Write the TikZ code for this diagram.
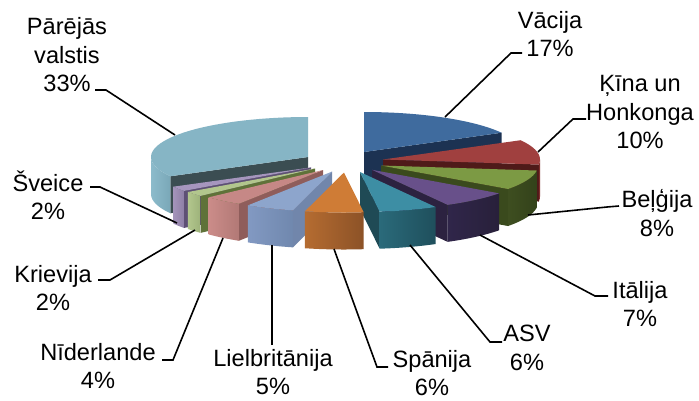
\documentclass[tikz,border=0pt]{standalone}
\usepackage{fontspec}
\setmainfont{Liberation Sans}
\def\prx{157}\def\pry{40}\def\pth{37}
% #1,#2 angles, #3,#4 tip, #5 style
\newcommand\pietop[5]{%
 \path[#5] (#3,#4) -- plot[domain=#1:#2,samples=40] ({#3+\prx*cos(\x)},{#4-\pry*sin(\x)}) -- cycle;}
\newcommand\piewall[5]{%
 \path[#5] plot[domain=#1:#2,samples=30] ({#3+\prx*cos(\x)},{#4-\pry*sin(\x)}) -- plot[domain=#2:#1,samples=30] ({#3+\prx*cos(\x)},{#4-\pry*sin(\x)+\pth}) -- cycle;}
% #1 angle, #2,#3 tip, #4 style
\newcommand\pieside[4]{%
 \path[#4] (#2,#3) -- ({#2+\prx*cos(#1)},{#3-\pry*sin(#1)}) -- ++(0,\pth) -- (#2,{#3+\pth}) -- cycle;}
\definecolor{vacT}{HTML}{3F6B9E}\definecolor{vacS}{HTML}{1C3252}
\definecolor{kinT}{HTML}{A0403F}\definecolor{kinS}{HTML}{4F1A19}\definecolor{kinW}{HTML}{7E2E2C}
\definecolor{belT}{HTML}{7C9A44}\definecolor{belS}{HTML}{3A4A1D}\definecolor{belWa}{HTML}{3E4E20}\definecolor{belWb}{HTML}{33421A}
\definecolor{itaT}{HTML}{68508A}\definecolor{itaS}{HTML}{2C2240}\definecolor{itaWa}{HTML}{30264A}\definecolor{itaWb}{HTML}{28203A}
\definecolor{asvT}{HTML}{3D8EA4}\definecolor{asvS}{HTML}{1F4A55}\definecolor{asvWa}{HTML}{2A6A7A}\definecolor{asvWb}{HTML}{1F4F5C}
\definecolor{spaT}{HTML}{CF7C36}\definecolor{spaWa}{HTML}{B56C31}\definecolor{spaWb}{HTML}{8C5227}
\definecolor{lieT}{HTML}{8DA5CC}\definecolor{lieS}{HTML}{7186AB}\definecolor{lieWa}{HTML}{8299C2}\definecolor{lieWb}{HTML}{7088AE}
\definecolor{nidT}{HTML}{C68886}\definecolor{nidS}{HTML}{8F5D5B}\definecolor{nidWa}{HTML}{CB8C89}\definecolor{nidWb}{HTML}{B27976}
\definecolor{kriT}{HTML}{B2C68D}\definecolor{kriS}{HTML}{5F7239}\definecolor{kriWa}{HTML}{B2C68D}\definecolor{kriWb}{HTML}{9DB27A}
\definecolor{sveT}{HTML}{A696BE}\definecolor{sveS}{HTML}{5E5075}\definecolor{sveWa}{HTML}{A393BA}\definecolor{sveWb}{HTML}{8E7FA6}
\definecolor{parT}{HTML}{86B5C5}\definecolor{parS}{HTML}{3B4D52}\definecolor{parWa}{HTML}{8CBBCB}\definecolor{parWb}{HTML}{7AA8B8}
\tikzset{lbl/.style={font=\fontsize{23.6}{28.5}\selectfont, align=center, inner sep=0pt},
 lead/.style={line width=1.6pt, black}}
\begin{document}
\begin{tikzpicture}[x=1pt,y=-1pt]
\useasboundingbox[fill=white] (0,0) rectangle (699,400);
% Vacija
\pieside{28.8}{364}{152}{fill=vacS}
\pietop{28.8}{90}{364}{152}{fill=vacT}
% Parejas valstis
\pieside{208.8}{308}{157}{fill=parS}
\piewall{180}{208.8}{308}{157}{left color=parWa,right color=parWb}
\pietop{90}{208.8}{308}{157}{fill=parT}
% Kina un Honkonga
\pieside{-7.2}{383}{159.5}{fill=kinS}
\piewall{-7.2}{0}{383}{159.5}{fill=kinW}
\pietop{-7.2}{28.8}{383}{159.5}{fill=kinT}
% Belgija
\pieside{-36}{381}{165.5}{fill=belS}
\piewall{-36}{-7.2}{381}{165.5}{left color=belWa,right color=belWb}
\pietop{-36}{-7.2}{381}{165.5}{fill=belT}
% Sveice
\pieside{-144}{311}{167.4}{fill=sveS}
\piewall{-151.2}{-144}{311}{167.4}{left color=sveWa,right color=sveWb}
\pietop{-151.2}{-144}{311}{167.4}{fill=sveT}
% Krievija
\pieside{-136.8}{315}{168.5}{fill=kriS}
\piewall{-144}{-136.8}{315}{168.5}{left color=kriWa,right color=kriWb}
\pietop{-144}{-136.8}{315}{168.5}{fill=kriT}
% Italija
\pieside{-61.2}{372}{169.8}{fill=itaS}
\piewall{-61.2}{-36}{372}{169.8}{left color=itaWa,right color=itaWb}
\pietop{-61.2}{-36}{372}{169.8}{fill=itaT}
% Niderlande
\pieside{-122.4}{323}{170}{fill=nidS}
\piewall{-136.8}{-122.4}{323}{170}{left color=nidWa,right color=nidWb}
\pietop{-136.8}{-122.4}{323}{170}{fill=nidT}
% Lielbritanija
\pieside{-104.4}{332}{171.6}{fill=lieS}
\piewall{-122.4}{-104.4}{332}{171.6}{left color=lieWa,right color=lieWb}
\pietop{-122.4}{-104.4}{332}{171.6}{fill=lieT}
% ASV
\pieside{-82.8}{360}{172}{fill=asvS}
\piewall{-82.8}{-61.2}{360}{172}{left color=asvWa,right color=asvWb}
\pietop{-82.8}{-61.2}{360}{172}{fill=asvT}
% Spanija
\piewall{-104.4}{-82.8}{344}{172.5}{left color=spaWa,right color=spaWb}
\pietop{-104.4}{-82.8}{344}{172.5}{fill=spaT}

% labels
\node[lbl] (lP) at (67,55) {Pārējās\\valstis\\33\%};
\node[lbl] (lV) at (550,34) {Vācija\\17\%};
\node[lbl] (lK) at (640,112) {Ķīna un\\Honkonga\\10\%};
\node[lbl] (lB) at (657,213) {Beļģija\\8\%};
\node[lbl] (lI) at (640,304) {Itālija\\7\%};
\node[lbl] (lA) at (527,348) {ASV\\6\%};
\node[lbl] (lS) at (432,373) {Spānija\\6\%};
\node[lbl] (lL) at (273,372) {Lielbritānija\\5\%};
\node[lbl] (lN) at (98,366) {Nīderlande\\4\%};
\node[lbl] (lR) at (53,288) {Krievija\\2\%};
\node[lbl] (lW) at (48,195) {Šveice\\2\%};

% leader coordinates
\coordinate (sP) at (95,90);  \coordinate (eP) at (106,90);  \coordinate (pP) at (175,135);
\coordinate (sV) at (522,53); \coordinate (eV) at (511,53);  \coordinate (pV) at (445,117);
\coordinate (sK) at (586,119);\coordinate (eK) at (573,119); \coordinate (pK) at (538,152);
\coordinate (sB) at (619,206);\coordinate (eB) at (607,207); \coordinate (pB) at (528,215);
\coordinate (sI) at (608,296);\coordinate (eI) at (595,296); \coordinate (pI) at (480,235);
\coordinate (sA) at (502,342);\coordinate (eA) at (490,342); \coordinate (pA) at (410,245);
\coordinate (sS) at (388,367);\coordinate (eS) at (377,367); \coordinate (pS) at (334,249);
\coordinate (sL) at (272,345);\coordinate (pL) at (272,245);
\coordinate (sN) at (162,360);\coordinate (eN) at (173,360); \coordinate (pN) at (223,238);
\coordinate (sR) at (98,280); \coordinate (eR) at (110,280); \coordinate (pR) at (195,230);
\coordinate (sW) at (90,187); \coordinate (eW) at (100,187); \coordinate (pW) at (177,223);
\draw[lead] (sP) -- (eP) -- (pP);
\draw[lead] (sV) -- (eV) -- (pV);
\draw[lead] (sK) -- (eK) -- (pK);
\draw[lead] (sB) -- (eB) -- (pB);
\draw[lead] (sI) -- (eI) -- (pI);
\draw[lead] (sA) -- (eA) -- (pA);
\draw[lead] (sS) -- (eS) -- (pS);
\draw[lead] (sL) -- (pL);
\draw[lead] (sN) -- (eN) -- (pN);
\draw[lead] (sR) -- (eR) -- (pR);
\draw[lead] (sW) -- (eW) -- (pW);
\end{tikzpicture}
\end{document}
